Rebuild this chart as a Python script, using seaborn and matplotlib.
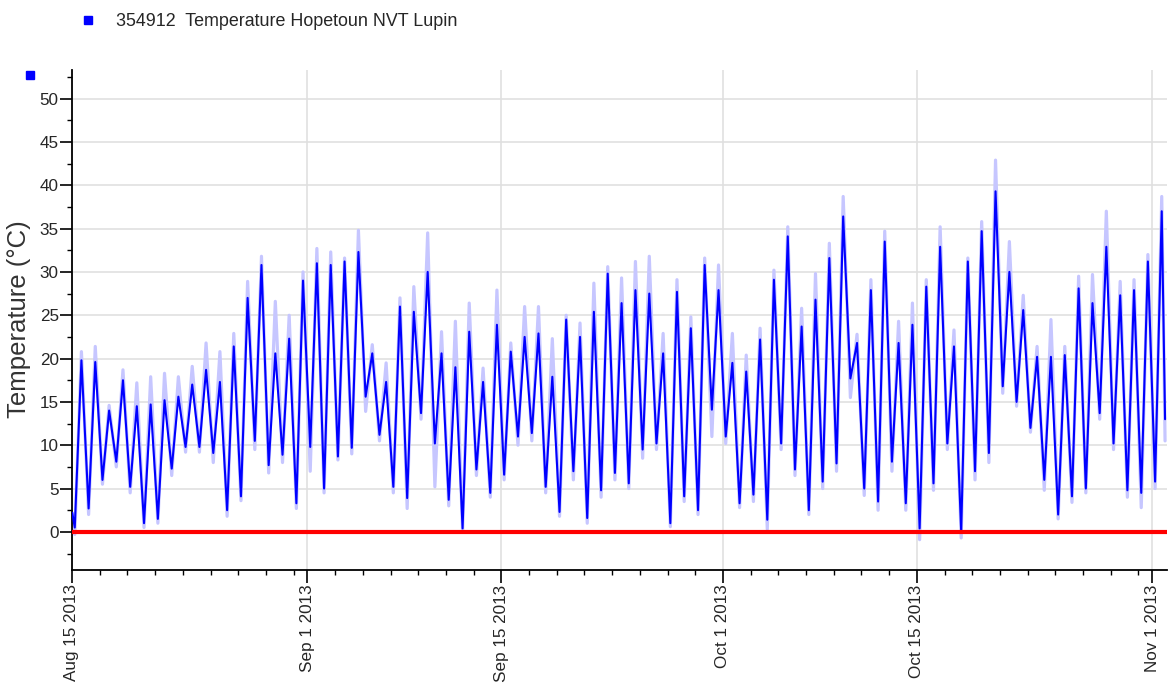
import numpy as np
import pandas as pd
import matplotlib
matplotlib.use("Agg")
import matplotlib.pyplot as plt
import matplotlib.dates as mdates
import matplotlib.ticker as mticker
from matplotlib.lines import Line2D
import seaborn as sns

# ---------------- data ----------------
start_date = "2013-08-15"
series_label = "354912  Temperature Hopetoun NVT Lupin"
y_label = "Temperature (°C)"

# daily minimum / maximum of the main (dark blue) trace, one entry per day from Aug 15
day_min = [0.5, 2.7, 6.0, 8.1, 5.2, 1.0, 1.5, 7.3, 9.8, 9.8,
           9.1, 2.5, 4.1, 10.5, 7.7, 8.9, 3.3, 9.8, 5.0, 8.7,
           9.7, 15.6, 11.2, 5.2, 3.9, 13.7, 10.2, 3.7, 0.4, 7.2,
           4.5, 6.6, 11.0, 11.4, 5.2, 2.3, 7.0, 1.6, 4.8, 6.8,
           5.6, 9.5, 10.2, 1.0, 4.1, 2.5, 14.1, 11.0, 3.3, 4.3,
           1.4, 10.2, 7.2, 2.5, 5.8, 7.9, 17.7, 5.0, 3.5, 8.1,
           3.3, 0.4, 5.6, 10.2, 0.0, 7.0, 9.1, 16.8, 15.0, 12.0,
           6.0, 2.0, 4.1, 5.0, 13.7, 10.2, 4.8, 4.5, 5.8]
day_max = [19.8, 19.6, 14.0, 17.5, 14.5, 14.7, 15.2, 15.6, 17.0, 18.7,
           17.3, 21.4, 27.0, 30.8, 20.6, 22.3, 29.0, 31.0, 30.8, 31.2,
           32.3, 20.6, 17.3, 26.0, 25.4, 30.0, 20.6, 19.0, 23.1, 17.3,
           23.9, 20.8, 22.5, 22.9, 17.9, 24.5, 22.5, 25.4, 29.8, 26.4,
           27.9, 27.5, 20.6, 27.7, 23.5, 30.8, 27.9, 19.5, 18.5, 22.2,
           29.1, 34.1, 23.7, 26.8, 31.6, 36.4, 21.8, 27.9, 33.5, 21.8,
           23.9, 28.3, 32.9, 21.4, 31.2, 34.7, 39.3, 30.0, 25.6, 20.2,
           20.2, 20.4, 28.1, 26.4, 32.9, 27.3, 27.9, 31.2, 37.0]
# extreme excursions of the light (lavender) trace
light_min = [-0.3, 2.0, 5.5, 7.5, 4.5, 0.5, 1.0, 6.5, 9.2, 9.2,
             8.0, 1.8, 3.6, 9.5, 6.8, 8.0, 2.7, 7.0, 4.5, 8.3,
             9.0, 13.9, 10.5, 4.5, 2.7, 13.0, 5.2, 3.0, 0.0, 6.5,
             4.0, 6.0, 10.0, 10.5, 4.5, 1.8, 6.0, 1.0, 4.0, 6.0,
             5.0, 8.5, 9.5, 0.6, 3.5, 2.0, 11.0, 10.2, 2.8, 3.5,
             0.3, 9.5, 6.5, 2.0, 5.0, 7.0, 15.5, 4.2, 2.5, 7.0,
             2.5, -0.9, 4.8, 9.5, -0.7, 6.0, 8.0, 16.0, 14.5, 11.5,
             4.8, 1.5, 3.4, 4.5, 13.0, 9.5, 4.0, 2.8, 5.0]
light_max = [20.8, 21.4, 14.6, 18.7, 17.2, 17.9, 18.3, 17.9, 19.1, 21.8,
             20.8, 22.9, 28.9, 31.8, 26.6, 25.0, 30.0, 32.7, 32.3, 31.6,
             34.8, 21.6, 19.5, 27.0, 28.3, 34.5, 23.1, 24.3, 26.4, 18.9,
             27.9, 21.8, 26.0, 26.0, 22.3, 25.0, 24.1, 28.7, 30.6, 29.3,
             31.2, 31.8, 22.9, 29.1, 24.8, 31.6, 30.8, 22.9, 20.4, 23.5,
             30.2, 35.2, 25.8, 29.8, 33.3, 38.7, 22.8, 29.1, 34.7, 24.3,
             26.4, 29.1, 35.2, 23.3, 31.6, 35.8, 42.9, 33.5, 27.3, 21.4,
             24.5, 21.4, 29.5, 29.7, 37.0, 28.9, 29.1, 32.0, 38.7]
first_value = [2.2, 2.2]   # dark, light
last_value = [13.0, 10.5]  # dark, light

# ---------------- build the time series ----------------
t0 = pd.Timestamp(start_date)


def build(mins, maxs, first, last):
    times = [t0 + pd.Timedelta(days=0.02)]
    vals = [first]
    for i, (lo, hi) in enumerate(zip(mins, maxs)):
        times.append(t0 + pd.Timedelta(days=i + 0.20))
        vals.append(lo)
        times.append(t0 + pd.Timedelta(days=i + 0.68))
        vals.append(hi)
    times.append(t0 + pd.Timedelta(days=len(mins) - 1 + 0.92))
    vals.append(last)
    return pd.DataFrame({"time": times, "temp": vals})


df_dark = build(day_min, day_max, first_value[0], last_value[0])
df_light = build(light_min, light_max, first_value[1], last_value[1])

# ---------------- figure ----------------
sns.set_style("ticks")
plt.rcParams["font.family"] = ["Liberation Sans", "DejaVu Sans"]
text_color = "#262626"

fig = plt.figure(figsize=(11.75, 6.86), dpi=100)
ax = fig.add_axes([72 / 1175, 1 - 570 / 686, (1167 - 72) / 1175, 500 / 686])

sns.lineplot(data=df_light, x="time", y="temp", ax=ax, color="#c6c6ff",
             lw=2.3, estimator=None, sort=False, zorder=2)
sns.lineplot(data=df_dark, x="time", y="temp", ax=ax, color="#0000ff",
             lw=1.5, estimator=None, sort=False, zorder=3)
ax.axhline(0, color="#ff0000", lw=3.0, zorder=4)

ax.set_xlim(t0, t0 + pd.Timedelta(days=79.06))
ax.set_ylim(-4.4, 53.3)

ax.xaxis.set_major_locator(mdates.DayLocator(bymonthday=[1, 15]))
ax.xaxis.set_minor_locator(mdates.DayLocator(bymonthday=list(range(1, 32, 2))))
ax.xaxis.set_major_formatter(mdates.DateFormatter("%b %-d %Y"))
ax.yaxis.set_major_locator(mticker.FixedLocator(list(range(0, 55, 5))))
ax.yaxis.set_minor_locator(mticker.MultipleLocator(2.5))

ax.tick_params(axis="x", which="major", length=9.4, width=1.2, color="#000000",
               labelrotation=90, labelsize=12.3, labelcolor=text_color, pad=1)
ax.tick_params(axis="x", which="minor", length=3.8, width=1.0, color="#000000")
ax.tick_params(axis="y", which="major", length=8.6, width=1.2, color="#000000",
               labelsize=12.3, labelcolor=text_color, pad=1)
ax.tick_params(axis="y", which="minor", length=3.8, width=1.0, color="#000000")

ax.grid(True, which="major", color="#e0e0e0", lw=1.2)
ax.set_axisbelow(True)
for s in ["top", "right"]:
    ax.spines[s].set_visible(False)
for s in ["left", "bottom"]:
    ax.spines[s].set_color("#000000")
    ax.spines[s].set_linewidth(1.3)
ax.set_xlabel("")
ax.set_ylabel("")

fig.text(19 / 1175, 1 - 319 / 686, y_label, rotation=90, ha="center",
         va="center", fontsize=18.5, color="#333333")

# legend at top
handle = Line2D([], [], marker="s", color="#0000ff", linestyle="none",
                markersize=5.5)
fig.legend(handles=[handle], labels=[series_label], loc="center left",
           bbox_to_anchor=(54 / 1175, 1 - 22 / 686), frameon=False,
           fontsize=12.9, handletextpad=0.55, labelcolor=text_color)
# small axis marker square
fig.add_artist(Line2D([30 / 1175], [1 - 75 / 686], marker="s", color="#0000ff",
                      markersize=6, linestyle="none", transform=fig.transFigure))

fig.savefig("out.png", dpi=100)
